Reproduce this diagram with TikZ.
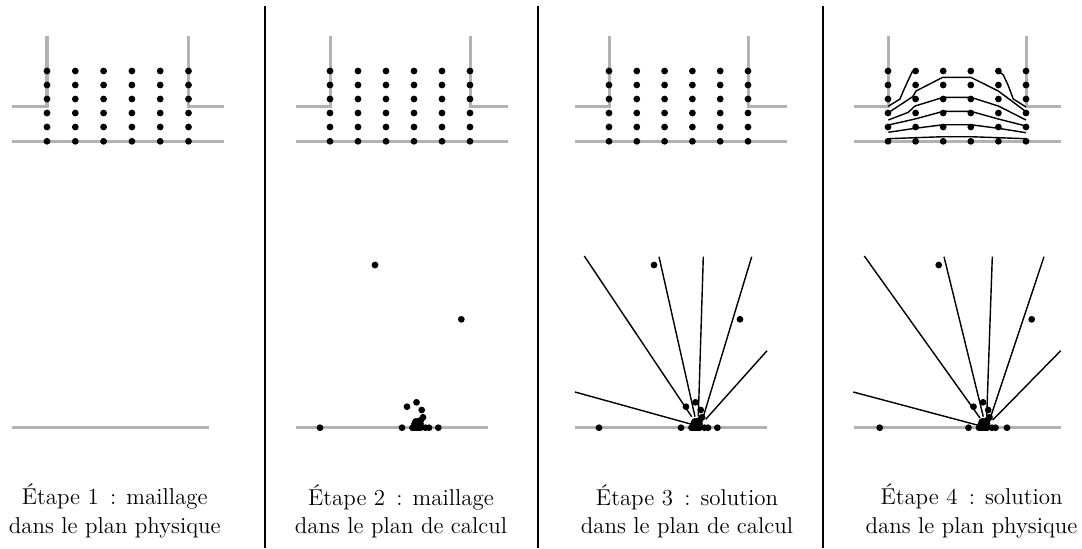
\documentclass[tikz,border=0pt]{standalone}
\tikzset{
  wall/.style={draw=black!30, line width=1.6pt},
  ray/.style={draw=black, line width=0.75pt},
  sep/.style={draw=black, line width=0.6pt},
  pt/.style={circle, fill=black, inner sep=0pt, minimum size=3.6pt},
  caption/.style={align=center, font=\fontsize{12.2}{15}\selectfont}
}
% dots of the physical mesh, #1 = x of first column, #2 = column spacing
\newcommand{\meshdots}[2]{
  \foreach \i in {0,...,5}
    \foreach \y in {71,85,99,113,127,141.3}
      \node[pt] at ({#1+\i*#2},\y) {};
}
% walls, #1 = left end, #2 = left wall, #3 = right wall, #4 = right end
\newcommand{\walls}[4]{
  \draw[wall] (#1,141.3) -- (#4,141.3);
  \draw[wall] (#1,106) -- (#2,106) -- (#2,36);
  \draw[wall] (#3,36) -- (#3,106) -- (#4,106);
}
% dots of the computational mesh, relative to cluster centre #1
\newcommand{\clusterdots}[1]{
  \foreach \dx/\y in {-5/427.7,-3/427.7,-1/427.7,1/427.7,3/427.7,8/427.7,11.5/427.7,
      -3/424,-1/424,1/424,3/424,-2/421.5,0/421.5,2/421.5,3.5/420,5.5/417.3,
      -10.5/406.7,-1/402.3,4.2/410,-15.5/427.7}
    \node[pt] at ({#1+\dx},\y) {};
}
\begin{document}
\begin{tikzpicture}[x=0.532pt,y=-0.532pt]
\useasboundingbox (0,0) rectangle (1082,548);
% separators
\draw[sep] (265,6) -- (265,548);
\draw[sep] (538,6) -- (538,548);
\draw[sep] (823,6) -- (823,548);
% step 1
\walls{12}{47}{188.5}{224}
\meshdots{47}{28.3}
\draw[wall] (12,427.7) -- (209,427.7);
\node[caption] (s1) at (114.7,511) {Étape 1~\,: maillage\\dans le plan physique};
% step 2
\walls{296}{330}{470}{508}
\meshdots{330}{28}
\draw[wall] (296,427.7) -- (488.3,427.7);
\clusterdots{417.5}
\node[pt] (a2) at (375,265) {};
\node[pt] (b2) at (461.3,319.3) {};
\node[pt] (c2) at (320,427.7) {};
\node[pt] (d2) at (438.3,427.7) {};
\node[caption] (s2) at (401,511) {Étape 2~\,: maillage\\dans le plan de calcul};
% step 3
\walls{575}{609}{748}{787}
\meshdots{609}{27.8}
\draw[wall] (575,427.7) -- (767,427.7);
\clusterdots{696.5}
\node[pt] (a3) at (654,265) {};
\node[pt] (b3) at (740,319.3) {};
\node[pt] (c3) at (599,427.7) {};
\node[pt] (d3) at (717.3,427.7) {};
\foreach \sx/\sy/\ex/\ey in {575/392/691.7/424.3,584.3/256/691.7/416.7,659/256.7/695/416.7,703.3/256.7/698.3/416.7,751.7/256.7/703.3/416.7,767/350.7/705.7/419.3}
  \draw[ray] (\sx,\sy) -- (\ex,\ey);
\node[caption] (s3) at (687,511) {Étape 3~\,: solution\\dans le plan de calcul};
% step 4
\walls{853.5}{888}{1026}{1061}
\meshdots{888}{27.6}
\draw[wall] (853.5,427.7) -- (1061,427.7);
\clusterdots{984}
\node[pt] (a4) at (938.7,265) {};
\node[pt] (b4) at (1031.7,319.3) {};
\node[pt] (c4) at (879.7,427.7) {};
\node[pt] (d4) at (1007,427.7) {};
\foreach \sx/\sy/\ex/\ey in {853.3/392/978.3/425.3,864.3/256/980/418,944/256.7/983.3/416.7,992.3/256.7/986.7/416.7,1044/256.7/990.7/416.7,1060.7/350.7/992.7/420}
  \draw[ray] (\sx,\sy) -- (\ex,\ey);
\draw[ray] (888.3,106.3) -- (900,99) -- (903,91.7) -- (908.3,80) -- (912.7,70.7);
\draw[ray] (998.3,70.7) -- (1003.3,75) -- (1008,85) -- (1013.3,99) -- (1026,107);
\draw[ray] (888.3,112.7) -- (912.7,96.7) -- (916,91) -- (942.7,77.3) -- (970.7,77.3) -- (998.3,91) -- (1026,111.7);
\draw[ray] (888.3,120) -- (908.3,112.3) -- (915,106) -- (943.3,97.3) -- (970.7,97.3) -- (998.3,106) -- (1026,120);
\draw[ray] (888.3,125) -- (915,119) -- (943.3,111.3) -- (970.7,111.3) -- (998.3,119) -- (1026,126);
\draw[ray] (888.3,132.3) -- (915,128.3) -- (943.3,124.7) -- (970.7,124.7) -- (998.3,128.3) -- (1026,132.7);
\draw[ray] (888.3,138.7) -- (915,137.7) -- (943.3,136.7) -- (970.7,136.7) -- (998.3,137.7) -- (1026,138.7);
\node[caption] (s4) at (971.5,511) {Étape 4~\,: solution\\dans le plan physique};
\end{tikzpicture}
\end{document}
